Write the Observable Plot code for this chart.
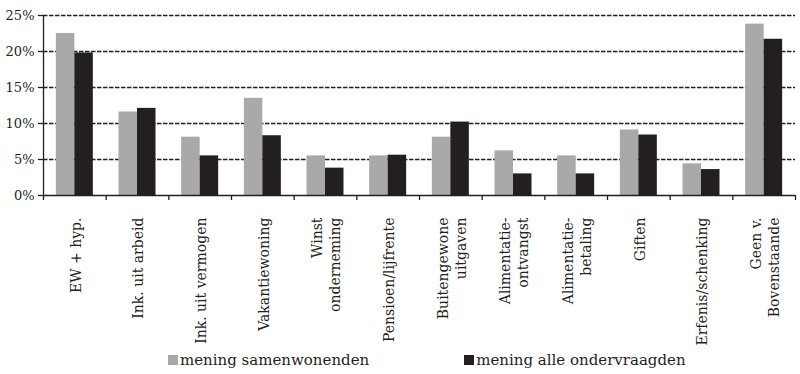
<!DOCTYPE html>
<html>
<head>
<meta charset="utf-8">
<script src="https://cdn.jsdelivr.net/npm/d3@7"></script>
<script src="https://cdn.jsdelivr.net/npm/@observablehq/plot@0.6"></script>
<style>
  html, body { margin: 0; padding: 0; background: #fff; }
  #chart { width: 800px; height: 374px; position: relative; font-family: "DejaVu Serif", serif; color: #231f20; }
  .legend { display: flex; align-items: center; height: 29px; padding-left: 168px; font-size: 15px; }
  .legend .item { display: flex; align-items: center; }
  .legend .sw { width: 10px; height: 10px; margin-right: 2px; }
</style>
</head>
<body>
<div id="chart"></div>
<script>
const categories = ["EW + hyp.", "Ink. uit arbeid", "Ink. uit vermogen", "Vakantiewoning", "Winst\nonderneming", "Pensioen/lijfrente", "Buitengewone\nuitgaven", "Alimentatie-\nontvangst", "Alimentatie-\nbetaling", "Giften", "Erfenis/schenking", "Geen v.\nBovenstaande"];
const seriesNames = ["mening samenwonenden", "mening alle ondervraagden"];
const samenwonenden = [22.5, 11.6, 8.1, 13.5, 5.5, 5.5, 8.1, 6.2, 5.5, 9.1, 4.4, 23.8];
const alleOndervraagden = [19.8, 12.1, 5.5, 8.3, 3.8, 5.6, 10.2, 3.0, 3.0, 8.4, 3.6, 21.7];
const yTicks = [0, 5, 10, 15, 20, 25];
const colors = ["#a9a9ab", "#231f20"];

const data = [];
categories.forEach((c, i) => {
  data.push({cat: c, series: seriesNames[0], value: samenwonenden[i]});
  data.push({cat: c, series: seriesNames[1], value: alleOndervraagden[i]});
});

const W = 800, H = 345, mL = 43, mR = 5;
const bw = (W - mL - mR) / categories.length;
const barW = 18.5;
const innerIn = bw / 2 - barW;

const plot = Plot.plot({
  width: W,
  height: H,
  marginLeft: mL,
  marginRight: mR,
  marginTop: 15,
  marginBottom: 150,
  style: {fontFamily: "DejaVu Serif, serif", color: "#231f20", background: "#fff"},
  x: {type: "band", domain: categories, padding: 0, round: false, axis: null},
  y: {domain: [0, 25], axis: null, label: null},
  marks: [
    Plot.gridY(yTicks.slice(1), {stroke: "#231f20", strokeOpacity: 1, strokeWidth: 1.3, strokeDasharray: "4.5,1.5"}),
    Plot.barY(data.filter(d => d.series === seriesNames[0]), {x: "cat", y: "value", fill: colors[0], insetLeft: innerIn, insetRight: bw / 2}),
    Plot.barY(data.filter(d => d.series === seriesNames[1]), {x: "cat", y: "value", fill: colors[1], insetLeft: bw / 2, insetRight: innerIn}),
    Plot.ruleY([0], {stroke: "#231f20", strokeWidth: 1.3}),
    // category boundary ticks and y-axis line
    Plot.ruleX(categories, {x: d => d, y1: 0, y2: 0, dx: -bw / 2, insetBottom: -5, stroke: "#231f20", strokeWidth: 1.3}),
    Plot.ruleX(categories.slice(-1), {x: d => d, y1: 0, y2: 0, dx: bw / 2, insetBottom: -5, stroke: "#231f20", strokeWidth: 1.3}),
    Plot.ruleX(categories.slice(0, 1), {x: d => d, y1: 0, y2: 25, dx: -bw / 2, stroke: "#231f20", strokeWidth: 1.3}),
    Plot.axisY(yTicks, {label: null, tickFormat: d => d + "%", tickSize: 5, tickPadding: 4, fontSize: 13, stroke: "#231f20", strokeWidth: 1.3, fill: "#231f20"}),
    Plot.text(categories, {x: d => d, y: 0, text: d => d, rotate: -90, textAnchor: "end", lineAnchor: "middle", lineHeight: 1.3, dy: 22, fontSize: 14, fill: "#231f20", ariaLabel: "cat-labels"})
  ]
});

const chart = document.getElementById("chart");
chart.appendChild(plot);

// center-align lines inside multi-line labels, keeping the longest line's end near the axis
plot.querySelectorAll('g[aria-label="cat-labels"] text').forEach(t => {
  const spans = t.querySelectorAll("tspan");
  if (spans.length < 2) return;
  let maxW = 0;
  spans.forEach(s => { maxW = Math.max(maxW, s.getComputedTextLength()); });
  t.setAttribute("text-anchor", "middle");
  spans.forEach(s => s.setAttribute("x", -maxW / 2));
});

const legend = document.createElement("div");
legend.className = "legend";
seriesNames.forEach((name, i) => {
  const item = document.createElement("div");
  item.className = "item";
  if (i > 0) item.style.marginLeft = "95px";
  const sw = document.createElement("span");
  sw.className = "sw";
  sw.style.background = colors[i];
  const lab = document.createElement("span");
  lab.textContent = name;
  item.appendChild(sw);
  item.appendChild(lab);
  legend.appendChild(item);
});
chart.appendChild(legend);
</script>
</body>
</html>
